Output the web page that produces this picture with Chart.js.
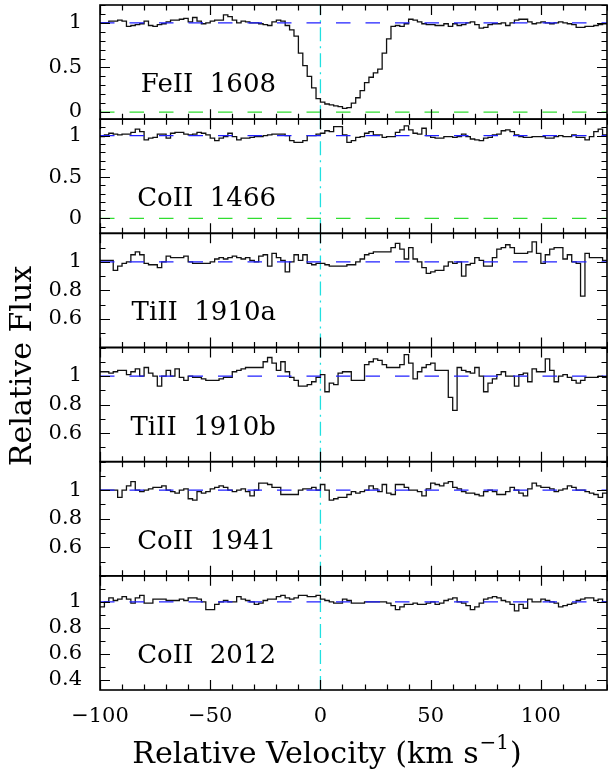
<!DOCTYPE html>
<html>
<head>
<meta charset="utf-8">
<script src="https://cdn.jsdelivr.net/npm/chart.js@4.4.1/dist/chart.umd.min.js"></script>
<style>
    html, body { margin: 0; padding: 0; background: #fff; }
    #wrap { position: relative; width: 608px; height: 776px; }
    #wrap canvas { position: absolute; left: 0; top: 0; }
</style>
</head>
<body>
<div id="wrap"></div>
<script>
// velocity bins: 2 km/s wide, first bin starts at -100
const velStart = -100;
const binWidth = 2;

const feII1608 = [1.0,1.0,1.02,1.02,1.03,1.02,0.96,0.97,0.98,0.99,
    1.02,0.97,0.96,0.98,0.99,1.01,1.03,1.03,1.04,1.05,
    1.01,1.06,1.02,0.99,1.0,1.02,1.03,1.03,1.09,1.07,
    1.03,1.0,1.02,1.01,1.0,1.0,0.99,0.98,0.97,1.01,
    1.03,1.02,0.97,0.92,0.85,0.66,0.52,0.40,0.27,0.15,
    0.11,0.09,0.08,0.07,0.06,0.04,0.05,0.10,0.16,0.24,
    0.33,0.39,0.44,0.48,0.66,0.82,0.96,0.97,0.96,0.99,
    1.04,1.03,1.01,0.99,0.98,0.98,0.97,0.97,0.99,0.96,
    0.99,0.97,0.98,1.0,1.01,0.98,0.94,0.95,0.98,0.99,
    0.99,1.0,0.97,1.0,1.03,1.04,1.04,1.01,0.99,1.0,
    1.01,1.0,0.99,1.0,1.01,1.0,0.99,0.98,0.95,0.95,
    0.96,0.96,0.97,0.98,0.99];

const coII1466 = [0.99,1.01,1.03,1.02,1.01,1.02,1.02,1.04,1.08,1.05,
    0.95,0.97,0.98,1.02,1.02,0.97,1.03,1.04,1.04,1.02,
    1.01,1.02,1.04,1.03,1.01,0.97,0.94,0.97,0.99,1.03,
    0.99,0.95,0.97,0.97,0.98,0.99,0.99,1.0,1.01,1.02,
    1.02,1.02,1.0,0.94,0.92,0.92,0.94,1.0,1.0,1.02,
    1.03,1.06,1.05,1.11,1.11,1.01,0.92,0.94,0.98,0.99,
    1.03,1.05,1.01,1.01,0.98,0.99,0.99,1.04,1.07,1.12,
    1.07,1.03,1.02,1.09,1.0,0.98,0.97,0.97,0.99,0.99,
    0.98,0.99,1.02,0.99,0.96,0.95,0.94,0.97,0.98,1.01,
    1.02,1.06,1.07,1.05,1.01,0.99,0.98,0.98,0.99,0.99,
    0.99,0.97,0.97,0.99,1.0,0.99,0.99,1.01,0.98,0.98,
    0.95,0.99,1.05,1.08,1.01];

const tiII1910a = [1.01,1.01,1.01,0.94,0.97,0.99,1.0,1.05,1.07,1.05,
    0.99,0.98,0.98,0.96,1.0,1.04,1.03,1.03,1.03,1.04,
    1.0,0.99,0.99,0.99,0.99,1.0,1.02,1.03,1.02,1.03,
    1.04,1.03,1.02,1.03,1.01,1.0,1.04,1.05,0.97,1.06,
    1.03,1.01,0.93,1.0,1.05,1.01,1.05,0.99,0.98,0.99,
    0.99,0.98,0.97,0.97,0.97,0.97,0.98,0.98,1.0,1.02,
    1.05,1.06,1.07,1.07,1.07,1.07,1.1,1.13,1.09,1.02,
    1.1,1.02,1.0,0.96,0.92,0.93,0.94,0.94,0.97,1.0,
    0.99,1.0,0.9,0.98,0.99,1.03,1.01,0.97,0.97,1.03,
    1.09,1.1,1.12,1.1,1.06,1.06,1.06,1.07,1.14,1.06,
    0.99,1.05,1.09,1.1,1.1,1.02,1.05,1.0,0.99,0.76,
    1.06,1.03,1.03,1.03,1.01];

const tiII1910b = [1.03,1.03,1.02,1.03,1.04,1.04,1.01,1.03,1.05,1.0,
    1.06,1.02,1.0,0.93,1.0,1.04,1.0,1.05,0.99,0.97,
    1.0,0.99,0.99,0.98,0.97,0.97,0.97,0.98,0.99,0.99,
    1.03,1.04,1.05,1.06,1.06,1.06,1.06,1.1,1.13,1.09,
    1.04,1.1,1.03,0.99,0.97,0.93,0.93,0.94,0.96,0.99,
    1.01,0.89,0.95,0.94,1.02,1.03,1.03,0.97,0.97,0.97,
    1.08,1.1,1.12,1.11,1.08,1.06,1.06,1.06,1.08,1.15,
    1.09,0.98,1.03,1.06,1.08,1.09,1.04,1.04,1.04,0.85,
    0.76,1.06,1.04,1.03,1.02,1.06,1.0,0.89,0.95,0.98,
    1.01,1.03,1.0,1.0,0.93,1.01,1.02,0.96,1.05,1.03,
    1.03,1.12,1.04,0.96,1.0,1.01,0.99,0.97,0.95,0.97,
    0.99,0.99,0.99,1.0,0.99];

const coII1941 = [1.0,1.0,1.0,1.0,0.95,1.0,1.03,1.06,1.0,0.99,
    1.0,1.01,1.02,1.02,1.03,1.0,0.99,0.98,1.0,1.01,
    0.94,0.93,0.99,0.98,0.99,1.01,1.02,1.03,1.02,1.0,
    0.99,1.0,1.01,0.99,0.96,1.0,1.05,1.05,1.04,1.02,
    1.02,0.97,0.97,0.97,0.97,1.0,1.01,1.01,1.02,1.0,
    1.04,1.0,0.93,0.94,0.95,0.95,0.97,0.99,0.98,0.99,
    1.0,1.03,1.01,0.99,1.04,0.98,0.97,1.04,1.04,1.02,
    1.0,1.0,0.99,0.96,1.01,1.05,1.04,1.03,1.05,1.06,
    1.02,1.01,0.99,0.98,0.98,0.97,0.96,0.99,1.0,0.99,
    0.97,0.97,0.99,1.02,1.0,0.98,0.96,1.01,1.05,1.03,
    1.02,1.02,1.01,0.99,1.0,1.01,1.03,1.02,1.0,1.0,
    0.99,0.98,0.97,0.95,0.98];

const coII2012 = [0.96,1.0,1.03,1.01,1.02,1.04,1.02,0.99,1.03,1.05,
    0.99,0.99,1.02,1.02,1.02,1.01,1.01,1.01,1.02,1.01,
    1.03,1.03,1.02,1.0,0.94,0.94,0.98,1.0,1.01,1.0,
    1.0,1.04,1.02,1.01,1.0,0.98,0.99,1.01,1.02,1.02,
    1.04,1.05,1.03,1.02,1.03,1.05,1.05,1.04,1.04,1.05,
    1.02,1.01,1.0,0.99,0.99,1.02,1.01,0.99,0.99,0.99,
    1.0,1.0,1.0,1.0,1.0,0.99,0.97,0.94,0.96,0.98,
    0.98,0.99,0.98,0.98,0.99,1.0,0.98,0.99,1.01,1.02,
    1.03,1.0,0.99,0.97,0.94,0.96,0.99,1.02,1.03,1.04,
    1.03,1.01,1.0,0.98,0.93,0.98,0.95,1.02,1.0,1.0,
    1.02,1.01,1.0,0.99,0.96,0.97,0.98,0.99,1.01,1.02,
    1.03,1.03,1.01,1.02,1.0];

const panelNames = ['FeII  1608', 'CoII  1466', 'TiII  1910a', 'TiII  1910b', 'CoII  1941', 'CoII  2012'];
const panelFlux = [feII1608, coII1466, tiII1910a, tiII1910b, coII1941, coII2012];
const yMins = [-0.08, -0.18, 0.4, 0.4, 0.4, 0.32];
const yMaxs = [1.2, 1.2, 1.2, 1.2, 1.2, 1.2];
const yTickLabels = [[0, 0.5, 1], [0, 0.5, 1], [0.6, 0.8, 1], [0.6, 0.8, 1], [0.6, 0.8, 1], [0.4, 0.6, 0.8, 1]];
const xTickLabels = [-100, -50, 0, 50, 100];
const xMin = -100, xMax = 130;

// layout of the stacked panels (pixels)
const W = 608, H = 776;
const plotLeft = 100, plotRight = 607;
const plotTop = 5, plotBottom = 690;
const panelH = (plotBottom - plotTop) / 6;

const serif = '"DejaVu Serif", "Liberation Serif", serif';

function fmtTick(v) {
    return v < 0 ? '\u2212' + Math.abs(v) : String(v);
}

// bins as left edges, plus closing edge at the end
function histPoints(vals) {
    const pts = vals.map((v, i) => ({ x: velStart + i * binWidth, y: v }));
    pts.push({ x: velStart + vals.length * binWidth, y: vals[vals.length - 1] });
    return pts;
}

// frame, inward ticks, panel label, axis titles
const panelFrame = {
    id: 'panelFrame',
    afterDraw(chart, args, opts) {
        const { ctx, chartArea: a, scales: { x, y } } = chart;
        ctx.save();
        ctx.strokeStyle = '#000';
        ctx.lineWidth = 1.6;
        ctx.strokeRect(a.left, a.top, a.right - a.left, a.bottom - a.top);

        ctx.lineWidth = 1.2;
        ctx.beginPath();
        for (let v = xMin; v <= xMax; v += 10) {
            const px = Math.round(x.getPixelForValue(v)) + 0.5;
            const len = v % 50 === 0 ? 10 : 5.5;
            ctx.moveTo(px, a.top); ctx.lineTo(px, a.top + len);
            ctx.moveTo(px, a.bottom); ctx.lineTo(px, a.bottom - len);
        }
        const lo = Math.ceil(y.min * 10 - 1e-6), hi = Math.floor(y.max * 10 + 1e-6);
        for (let k = lo; k <= hi; k++) {
            const v = k / 10;
            const py = Math.round(y.getPixelForValue(v)) + 0.5;
            const major = opts.labels.some(l => Math.abs(l - v) < 1e-6);
            const len = major ? 10 : 5.5;
            ctx.moveTo(a.left, py); ctx.lineTo(a.left + len, py);
            ctx.moveTo(a.right, py); ctx.lineTo(a.right - len, py);
        }
        ctx.stroke();

        ctx.fillStyle = '#000';
        ctx.font = '26px ' + serif;
        ctx.textAlign = 'right';
        ctx.textBaseline = 'alphabetic';
        ctx.fillText(opts.name, 276, a.top + 87);

        if (opts.titles) {
            // x title with superscript
            const t1 = 'Relative Velocity (km s', sup = '\u22121', t2 = ')';
            ctx.font = '30px ' + serif;
            const w1 = ctx.measureText(t1).width, w2 = ctx.measureText(t2).width;
            ctx.font = '20px ' + serif;
            const ws = ctx.measureText(sup).width;
            let tx = 326 - (w1 + ws + w2) / 2;
            const ty = 763;
            ctx.textAlign = 'left';
            ctx.font = '30px ' + serif;
            ctx.fillText(t1, tx, ty);
            tx += w1;
            ctx.font = '20px ' + serif;
            ctx.fillText(sup, tx + 1, ty - 14);
            tx += ws + 2;
            ctx.font = '30px ' + serif;
            ctx.fillText(t2, tx, ty);

            // y title
            ctx.translate(23, 366);
            ctx.rotate(-Math.PI / 2);
            ctx.textAlign = 'center';
            ctx.textBaseline = 'middle';
            ctx.fillText('Relative Flux', 0, 0);
        }
        ctx.restore();
    }
};

const wrap = document.getElementById('wrap');

panelFlux.forEach((flux, i) => {
    const canvas = document.createElement('canvas');
    canvas.width = W;
    canvas.height = H;
    wrap.appendChild(canvas);

    const top = plotTop + i * panelH;
    const bottom = top + panelH;
    const last = i === panelFlux.length - 1;

    const datasets = [
        {
            data: [{ x: xMin, y: 1 }, { x: xMax, y: 1 }],
            borderColor: '#2020ff',
            borderWidth: 1.3,
            borderDash: [14.5, 15],
            pointRadius: 0
        },
        {
            data: histPoints(flux),
            borderColor: '#111',
            borderWidth: 1.3,
            stepped: 'before',
            pointRadius: 0
        },
        {
            data: [{ x: 0, y: yMins[i] }, { x: 0, y: yMaxs[i] }],
            borderColor: '#20e0e0',
            borderWidth: 1.3,
            borderDash: [14, 5, 2, 5],
            pointRadius: 0
        }
    ];
    if (yMins[i] < 0) {
        datasets.push({
            data: [{ x: xMin, y: 0 }, { x: xMax, y: 0 }],
            borderColor: '#30dd30',
            borderWidth: 1.3,
            borderDash: [14.5, 15],
            pointRadius: 0
        });
    }

    new Chart(canvas, {
        type: 'line',
        data: { datasets: datasets },
        options: {
            responsive: false,
            animation: false,
            devicePixelRatio: 1,
            events: [],
            layout: {
                padding: {
                    left: 0,
                    right: W - plotRight,
                    top: top,
                    bottom: last ? 0 : H - bottom
                }
            },
            plugins: {
                legend: { display: false },
                tooltip: { enabled: false },
                panelFrame: { name: panelNames[i], labels: yTickLabels[i], titles: last }
            },
            scales: {
                x: {
                    type: 'linear',
                    min: xMin,
                    max: xMax,
                    display: last,
                    grid: { display: false, drawTicks: false },
                    border: { display: false },
                    afterBuildTicks: s => { s.ticks = xTickLabels.map(v => ({ value: v })); },
                    afterFit: s => {
                        s.height = last ? H - plotBottom : 0;
                        s.paddingLeft = 0;
                        s.paddingRight = 0;
                    },
                    ticks: {
                        autoSkip: false,
                        maxRotation: 0,
                        padding: 14,
                        color: '#000',
                        font: { family: serif, size: 21 },
                        callback: v => fmtTick(v)
                    }
                },
                y: {
                    type: 'linear',
                    min: yMins[i],
                    max: yMaxs[i],
                    grid: { display: false, drawTicks: false },
                    border: { display: false },
                    afterBuildTicks: s => { s.ticks = yTickLabels[i].map(v => ({ value: v })); },
                    afterFit: s => {
                        s.width = plotLeft;
                        s.paddingTop = 0;
                        s.paddingBottom = 0;
                    },
                    ticks: {
                        autoSkip: false,
                        padding: 18,
                        color: '#000',
                        font: { family: serif, size: 21 },
                        callback: v => fmtTick(v)
                    }
                }
            }
        },
        plugins: [panelFrame]
    });
});
</script>
</body>
</html>
